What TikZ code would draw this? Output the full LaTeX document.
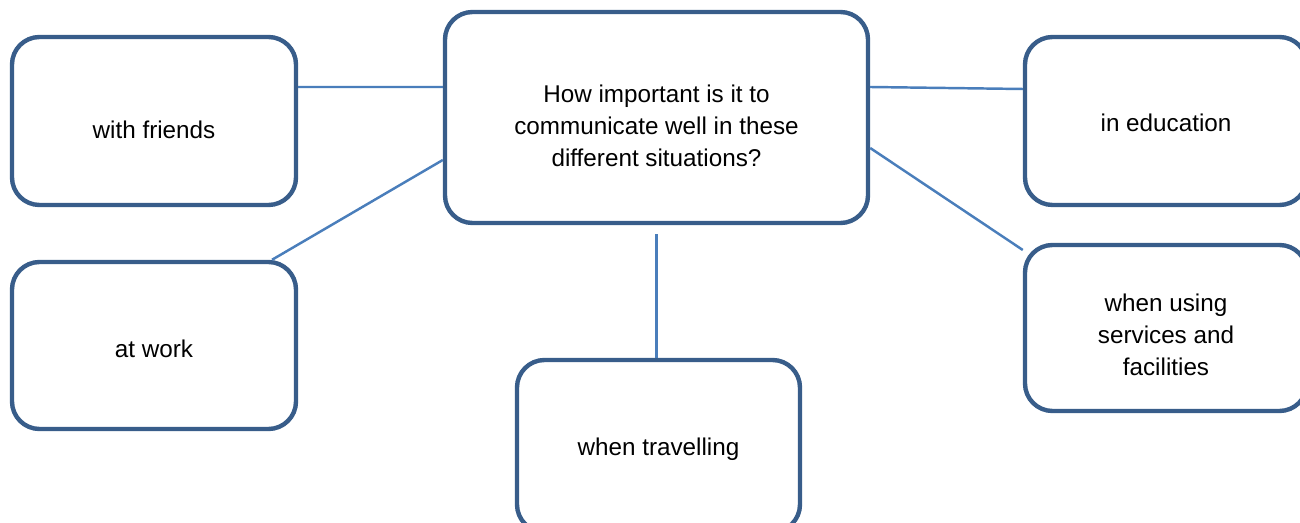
\documentclass[tikz,border=0pt]{standalone}
\usepackage{fontspec}
\setmainfont{Liberation Sans}
\definecolor{boxblue}{RGB}{56,93,138}
\definecolor{lineblue}{RGB}{74,126,187}
\tikzset{
  topicbox/.style={draw=boxblue,line width=2.5pt,rounded corners=0.55cm,fill=white,inner sep=0pt},
  topictext/.style={align=center,inner sep=0pt,font=\fontsize{13.8pt}{18.3pt}\selectfont},
  link/.style={draw=lineblue,line width=1.4pt}
}
\begin{document}
\begin{tikzpicture}
                  \useasboundingbox (0,0) rectangle (26,-10.46);
                  % question box
                  \node [topicbox,minimum width=8.46cm,minimum height=4.22cm,
                    label={[topictext,yshift=-0.16cm]center:{How important is it to\\communicate well in these\\different situations?}}] (q) at (13.13,-2.35) {};
                  % left boxes
                  \node [topicbox,minimum width=5.68cm,minimum height=3.36cm,
                    label={[topictext,yshift=-0.18cm]center:with friends}] (friends) at (3.08,-2.42) {};
                  \node [topicbox,minimum width=5.68cm,minimum height=3.34cm,
                    label={[topictext,yshift=-0.06cm]center:at work}] (work) at (3.08,-6.91) {};
                  % right boxes
                  \node [topicbox,minimum width=5.64cm,minimum height=3.36cm,
                    label={[topictext,yshift=-0.04cm]center:in education}] (edu) at (23.32,-2.42) {};
                  \node [topicbox,minimum width=5.64cm,minimum height=3.32cm,
                    label={[topictext,yshift=-0.14cm]center:{when using\\services and\\facilities}}] (serv) at (23.32,-6.56) {};
                  % bottom box
                  \node [topicbox,minimum width=5.66cm,minimum height=3.44cm,
                    label={[topictext,yshift=-0.06cm]center:when travelling}] (trav) at (13.17,-8.92) {};
                  % links
                  \draw [link] ([yshift=0.68cm]friends.east) -- ([yshift=0.61cm]q.west);
                  \draw [link] ([xshift=2.36cm]work.north) -- ([yshift=-0.85cm]q.west);
                  \draw [link] ([yshift=0.61cm]q.east) -- ([yshift=0.64cm]edu.west);
                  \draw [link] ([yshift=-0.61cm]q.east) -- ([yshift=1.56cm]serv.west);
                  \draw [link] ([yshift=-0.18cm]q.south) -- (q.south |- trav.north);
\end{tikzpicture}
\end{document}
